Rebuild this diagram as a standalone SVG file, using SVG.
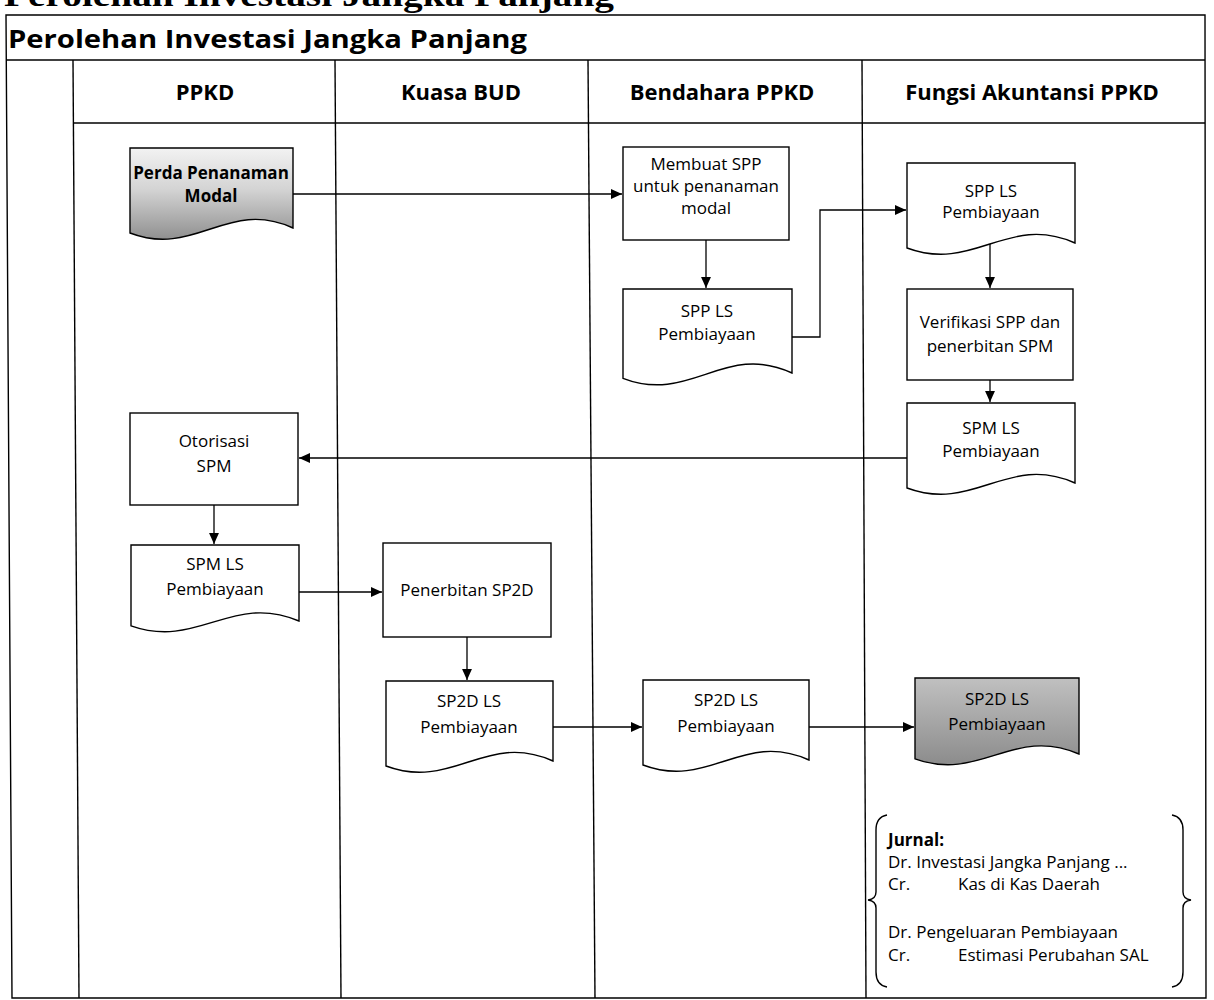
<svg xmlns="http://www.w3.org/2000/svg" width="1214" height="1000" viewBox="0 0 1214 1000">
  <style>
    .frame { fill: none; stroke: #000; stroke-width: 1.4; }
    .shape { fill: #fff; stroke: #000; stroke-width: 1.4; }
    .conn { fill: none; stroke: #000; stroke-width: 1.3; marker-end: url(#ah); }
    .lbl { font-family: "Open Sans", "Liberation Sans", sans-serif; font-size: 17px; fill: #000; text-anchor: middle; }
    .hdr { font-family: "Open Sans", "Liberation Sans", sans-serif; font-size: 22px; font-weight: bold; fill: #000; text-anchor: middle; }
    .jr { font-family: "Open Sans", "Liberation Sans", sans-serif; font-size: 17px; fill: #000; }
  </style>
  <defs>
    <marker id="ah" viewBox="0 0 10 10" refX="10" refY="5" markerWidth="11" markerHeight="11" markerUnits="userSpaceOnUse" orient="auto">
      <path d="M0,0.5 L10,5 L0,9.5 Z" fill="#000"/>
    </marker>
    <linearGradient id="shadeA" x1="0" y1="0" x2="0" y2="1">
      <stop offset="0" stop-color="#f2f2f2"/>
      <stop offset="0.45" stop-color="#d4d4d4"/>
      <stop offset="1" stop-color="#909090"/>
    </linearGradient>
    <linearGradient id="shadeB" x1="0" y1="0" x2="0" y2="1">
      <stop offset="0" stop-color="#c0c0c0"/>
      <stop offset="1" stop-color="#8c8c8c"/>
    </linearGradient>
  </defs>

  <rect width="1214" height="1000" fill="#fff"/>

  <!-- page heading above the chart, running off the top edge -->
  <text x="4" y="6" font-family="Liberation Serif, serif" font-size="32" font-weight="bold" textLength="610" lengthAdjust="spacingAndGlyphs">Perolehan Investasi Jangka Panjang</text>

  <!-- swimlane frame -->
  <g id="frame">
    <path class="frame" d="M6,15 H1205 L1206,998 H12 Z"/>
    <path class="frame" d="M6,60 H1205"/>
    <path class="frame" d="M73,123 H1205"/>
    <path class="frame" d="M73,60 L79,998"/>
    <path class="frame" d="M335,60 L341,998"/>
    <path class="frame" d="M588,60 L595,998"/>
    <path class="frame" d="M862,60 L866,998"/>
    <text x="8" y="48" font-family="Open Sans, Liberation Sans, sans-serif" font-size="25" font-weight="bold" textLength="519" lengthAdjust="spacingAndGlyphs">Perolehan Investasi Jangka Panjang</text>
    <text class="hdr" x="205" y="100">PPKD</text>
    <text class="hdr" x="461" y="100">Kuasa BUD</text>
    <text class="hdr" x="722" y="100">Bendahara PPKD</text>
    <text class="hdr" x="1032" y="100">Fungsi Akuntansi PPKD</text>
  </g>

  <!-- connectors -->
  <g id="connectors">
    <path class="conn" d="M293,194 H622"/>
    <path class="conn" d="M706,240 V288"/>
    <path class="conn" d="M792,337 H820 V210 H906"/>
    <path class="conn" d="M990,244 V288"/>
    <path class="conn" d="M990,380 V402"/>
    <path class="conn" d="M907,458 H299"/>
    <path class="conn" d="M214,505 V544"/>
    <path class="conn" d="M299,592 H382"/>
    <path class="conn" d="M467,637 V680"/>
    <path class="conn" d="M553,727 H642"/>
    <path class="conn" d="M809,727 H914"/>
  </g>

  <!-- PPKD -->
  <g id="perda">
    <path d="M130,148 H293 V228 C227.8,198 195.2,258 130,233 Z" fill="url(#shadeA)" stroke="#000" stroke-width="1.4"/>
    <text class="lbl" x="211" y="179" font-weight="bold">Perda Penanaman</text>
    <text class="lbl" x="211" y="202" font-weight="bold">Modal</text>
  </g>
  <g id="otorisasi">
    <rect class="shape" x="130" y="413" width="168" height="92"/>
    <text class="lbl" x="214" y="447">Otorisasi</text>
    <text class="lbl" x="214" y="472">SPM</text>
  </g>
  <g id="spm-ppkd">
    <path class="shape" d="M131,545 H299 V621 C231.8,592.5 198.2,649.5 131,625.8 Z"/>
    <text class="lbl" x="215" y="570">SPM LS</text>
    <text class="lbl" x="215" y="595">Pembiayaan</text>
  </g>

  <!-- Kuasa BUD -->
  <g id="penerbitan">
    <rect class="shape" x="383" y="543" width="168" height="94"/>
    <text class="lbl" x="467" y="596">Penerbitan SP2D</text>
  </g>
  <g id="sp2d-bud">
    <path class="shape" d="M386,681 H553 V761 C486.2,731 452.8,791 386,766 Z"/>
    <text class="lbl" x="469" y="707">SP2D LS</text>
    <text class="lbl" x="469" y="733">Pembiayaan</text>
  </g>

  <!-- Bendahara PPKD -->
  <g id="membuat-spp">
    <rect class="shape" x="623" y="147" width="166" height="93"/>
    <text class="lbl" x="706" y="170">Membuat SPP</text>
    <text class="lbl" x="706" y="192">untuk penanaman</text>
    <text class="lbl" x="706" y="214">modal</text>
  </g>
  <g id="spp-bendahara">
    <path class="shape" d="M623,289 H792 V373 C724.4,341.5 690.6,404.5 623,378.3 Z"/>
    <text class="lbl" x="707" y="317">SPP LS</text>
    <text class="lbl" x="707" y="340">Pembiayaan</text>
  </g>
  <g id="sp2d-bendahara">
    <path class="shape" d="M643,680 H809 V760 C742.6,730 709.4,790 643,765 Z"/>
    <text class="lbl" x="726" y="706">SP2D LS</text>
    <text class="lbl" x="726" y="732">Pembiayaan</text>
  </g>

  <!-- Fungsi Akuntansi PPKD -->
  <g id="spp-fungsi">
    <path class="shape" d="M907,163 H1075 V243 C1007.8,213 974.2,273 907,248 Z"/>
    <text class="lbl" x="991" y="197">SPP LS</text>
    <text class="lbl" x="991" y="218">Pembiayaan</text>
  </g>
  <g id="verifikasi">
    <rect class="shape" x="907" y="289" width="166" height="91"/>
    <text class="lbl" x="990" y="328">Verifikasi SPP dan</text>
    <text class="lbl" x="990" y="352">penerbitan SPM</text>
  </g>
  <g id="spm-fungsi">
    <path class="shape" d="M907,403 H1075 V483 C1007.8,453 974.2,513 907,488 Z"/>
    <text class="lbl" x="991" y="434">SPM LS</text>
    <text class="lbl" x="991" y="457">Pembiayaan</text>
  </g>
  <g id="sp2d-fungsi">
    <path d="M915,678 H1079 V754 C1013.4,725.5 980.6,782.5 915,758.8 Z" fill="url(#shadeB)" stroke="#000" stroke-width="1.4"/>
    <text class="lbl" x="997" y="705">SP2D LS</text>
    <text class="lbl" x="997" y="730">Pembiayaan</text>
  </g>

  <!-- journal entries in braces -->
  <g id="jurnal">
    <path class="frame" stroke-width="1.2" d="M887,815 Q876,817 876,830 V892 Q876,899 868,900 Q876,901 876,908 V972 Q876,985 887,987"/>
    <path class="frame" stroke-width="1.2" d="M1172,815 Q1183,817 1183,830 V892 Q1183,899 1191,900 Q1183,901 1183,908 V972 Q1183,985 1172,987"/>
    <text class="jr" x="888" y="846" font-weight="bold">Jurnal:</text>
    <text class="jr" x="888" y="868">Dr. Investasi Jangka Panjang ...</text>
    <text class="jr" x="888" y="890">Cr.</text>
    <text class="jr" x="958" y="890">Kas di Kas Daerah</text>
    <text class="jr" x="888" y="938">Dr. Pengeluaran Pembiayaan</text>
    <text class="jr" x="888" y="961">Cr.</text>
    <text class="jr" x="958" y="961">Estimasi Perubahan SAL</text>
  </g>
</svg>
